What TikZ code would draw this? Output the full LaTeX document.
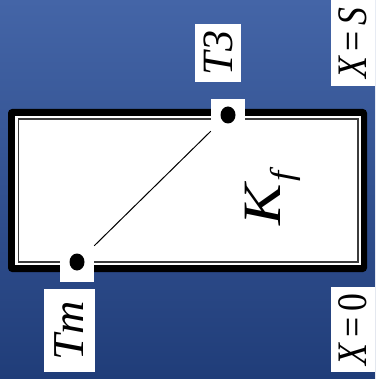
\documentclass[tikz,border=0pt]{standalone}
\usepackage{fontspec}
\setmainfont{Liberation Serif}
\usetikzlibrary{shapes.geometric}
\definecolor{bgtop}{RGB}{68,101,167}
\definecolor{bgbot}{RGB}{32,61,121}
\definecolor{framegray}{RGB}{60,60,60}
\begin{document}
\begin{tikzpicture}[x=1pt,y=-1pt,
  lbl/.style={fill=white, inner sep=0pt, rotate=90, font=\fontsize{42}{42}\selectfont\itshape},
  sq/.style={fill=white, inner sep=0pt, minimum width=34pt},
  dotmark/.style={ellipse, fill=black, inner sep=0pt, minimum width=15pt, minimum height=17pt}]
\shade[top color=bgtop, bottom color=bgbot] (0,0) rectangle (375,379);
\useasboundingbox (0,0) rectangle (375,379);
% frame
\fill[black, rounded corners=4pt] (8,109) rectangle (367,272);
\fill[white] (15,116) rectangle (361,265);
\draw[framegray, line width=1.3pt] (18.2,119) rectangle (358,262);
% point squares
\node[sq, minimum height=36pt] (tmsq) at (77,264) {};
\node[sq, minimum height=32pt] (t3sq) at (228,115) {};
\node[dotmark] (tm) at (77,262) {};
\node[dotmark] (t3) at (228,115) {};
\draw[line width=1pt] (tmsq.north east) -- (t3sq.south west);
% labels
\node[lbl, minimum width=83pt, minimum height=51pt] (tmlbl) at (69.5,330.5) {\scalebox{1.1}[1.05]{Tm}};
\node[lbl, minimum width=58pt, minimum height=46pt] (t3lbl) at (218,53) {\scalebox{1}[1.03]{T3}};
\node[lbl, minimum width=86pt, minimum height=44pt] (xs) at (353,43) {\scalebox{0.85}[1]{X\,{\upshape =}\,S}};
\node[lbl, minimum width=85pt, minimum height=44pt] (x0) at (353,329.5) {\scalebox{0.85}[1]{X\,{\upshape =\,0}}};
\node[rotate=90, anchor=base west, inner sep=0pt, font=\fontsize{54}{54}\selectfont\itshape] (kf) at (280,226) {\scalebox{1.15}[1]{K}\kern3pt\raisebox{-13pt}{\fontsize{33}{33}\selectfont\scalebox{1.1}[1]{f}}};
\end{tikzpicture}
\end{document}
